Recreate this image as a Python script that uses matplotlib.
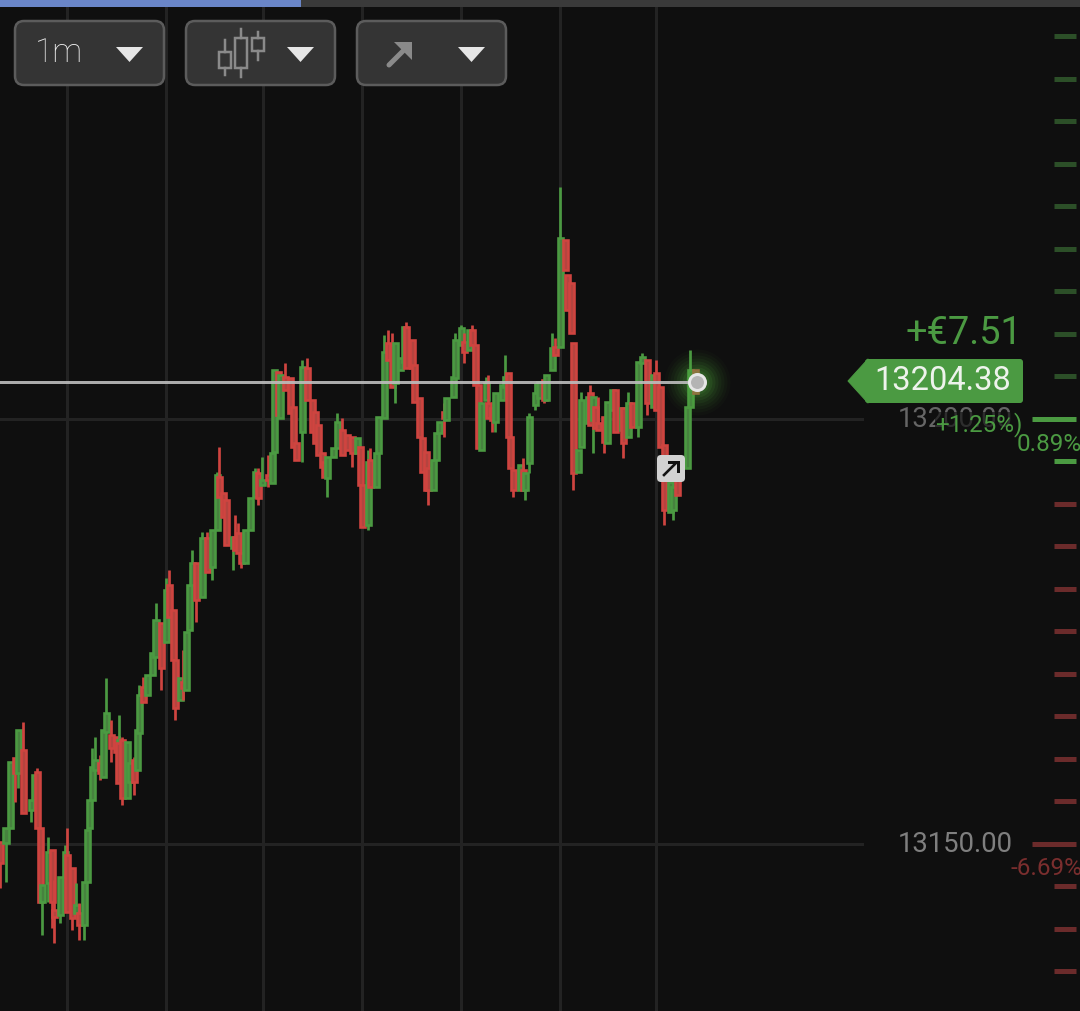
#!/usr/bin/env python3
import numpy as np
import matplotlib
matplotlib.use('Agg')
import matplotlib.pyplot as plt
from matplotlib.patches import FancyBboxPatch, Polygon, Rectangle

plt.rcParams['font.family'] = ['Roboto', 'DejaVu Sans']

BASE_PRICE = 13200.0
LAST_PRICE = 13204.38

# candle times (chart units, grid lines about every 10) and prices relative to BASE_PRICE
times = [0.0,0.6,1.0,1.5,1.8,2.3,3.1,3.4,3.7,4.0,4.2,4.8,5.2,5.4,6.0,6.5,6.7,7.2,7.6,7.9,
    8.4,8.7,8.9,9.2,9.5,10.0,10.3,10.6,11.1,11.6,11.9,11.8,12.2,12.7,13.0,13.4,13.7,13.9,14.3,14.7,
    15.2,15.6,16.1,16.6,16.9,17.3,17.5,18.0,18.3,18.6,18.9,19.2,19.6,20.2,20.7,21.2,21.7,21.9,22.3,22.6,
    23.3,23.5,23.8,24.1,24.5,25.0,25.5,25.8,26.2,26.8,27.2,27.4,27.8,28.0,28.5,29.0,29.3,29.6,30.2,30.7,
    31.2,31.5,31.8,32.2,32.4,32.7,33.3,33.7,34.2,34.7,35.2,35.7,36.0,36.2,36.8,37.0,37.6,37.8,38.4,38.8,
    39.2,39.5,40.0,40.4,40.6,41.2,41.4,41.9,42.2,42.6,42.8,43.3,43.6,43.9,44.4,44.6,45.3,45.5,46.1,46.4,
    46.9,47.2,47.5,47.8,48.1,48.6,48.8,49.2,49.5,50.2,50.5,50.8,51.0,51.3,52.0,52.3,52.5,52.9,53.5,53.9,
    54.4,54.6,55.2,55.5,56.0,56.5,56.7,57.1,57.3,57.8,58.1,58.8,59.0,59.3,59.5,59.8,60.4,60.7,61.2,61.5,
    62.2,62.3,62.8,63.2,63.8,64.2,64.7,65.3,65.6,66.0,66.4,67.0,67.3,67.7,68.7,69.0,69.5]
opens = [-49.8,-49.9,-48.1,-39.9,-41.6,-38.9,-46.0,-44.8,-41.5,-48.1,-56.8,-54.6,-50.7,-57.8,-58.4,-53.9,-51.3,-52.8,-58.1,-58.1,
    -59.5,-54.5,-48.1,-44.8,-41.3,-40.5,-42.1,-36.8,-37.2,-37.4,-40.1,-38.1,-37.8,-44.6,-42.7,-40.1,-41.3,-36.9,-31.5,-32.5,
    -30.1,-28.0,-24.0,-26.2,-19.5,-22.5,-28.4,-33.1,-30.9,-31.9,-24.8,-19.5,-16.9,-20.9,-14.0,-17.4,-13.1,-6.8,-8.7,-9.5,
    -15.2,-13.9,-13.4,-15.8,-16.9,-13.1,-9.2,-6.4,-7.8,-6.6,-7.5,-3.9,5.5,0.1,4.9,4.8,1.4,-2.8,-1.5,6.0,
    2.2,0.8,-0.7,-4.0,-5.1,-6.9,-4.5,-3.4,-1.3,-1.9,-2.1,-4.0,-3.3,-7.8,-12.5,-4.8,-8.0,-4.0,0.1,8.9,
    8.7,4.2,5.8,6.7,10.8,9.3,6.4,2.5,-2.2,-3.9,-5.8,-8.4,-4.8,-1.6,0.8,-0.1,2.6,4.8,8.7,9.1,
    8.1,10.5,8.7,4.0,-3.6,2.2,1.9,1.3,-0.4,2.2,3.8,5.4,-2.1,-6.0,-8.4,-6.0,-8.4,-5.2,1.6,2.5,
    4.6,2.2,5.8,8.5,8.5,21.1,16.9,16.0,8.9,-6.2,-3.3,-0.5,3.1,-0.1,1.4,-0.5,0.2,-2.8,1.1,3.4,
    -1.3,1.3,-2.1,1.9,-0.9,6.6,6.9,1.4,5.4,3.8,-3.1,-10.9,-10.7,-4.8,-5.8,1.4,5.8]
closes = [-52.2,-48.1,-40.4,-41.6,-36.6,-46.4,-44.8,-41.9,-48.1,-56.8,-54.8,-50.9,-56.8,-58.6,-53.9,-50.9,-58.0,-58.7,-57.2,-59.5,
    -54.5,-48.4,-44.8,-40.9,-40.1,-41.6,-36.6,-34.6,-38.7,-39.2,-37.8,-42.8,-44.6,-38.0,-40.5,-42.7,-36.6,-32.5,-33.3,-30.1,
    -27.5,-23.6,-29.3,-20.1,-23.3,-28.4,-34.0,-30.5,-31.6,-25.1,-19.5,-16.9,-21.3,-14.0,-18.0,-13.1,-6.6,-9.2,-11.5,-14.8,
    -13.9,-15.4,-15.8,-16.9,-13.1,-9.3,-6.2,-9.3,-7.2,-7.2,-4.0,5.8,0.5,5.2,3.4,0.7,-3.3,-4.8,6.1,2.2,
    -1.5,-2.8,-4.2,-5.6,-6.8,-4.5,-3.4,-0.4,-4.2,-3.6,-4.0,-2.2,-7.8,-12.7,-5.1,-8.0,-4.0,0.2,7.9,6.9,
    3.8,8.9,7.2,10.8,6.0,6.0,2.0,-2.1,-6.2,-8.4,-8.4,-4.8,-1.6,-0.4,0.1,2.5,4.9,9.3,10.7,7.9,
    10.5,8.7,4.0,-3.4,1.9,4.2,0.1,-0.1,3.1,4.0,4.9,-2.1,-5.8,-8.4,-5.4,-8.4,-6.4,0.2,3.1,4.4,
    2.2,5.2,8.4,7.5,21.3,17.5,12.8,10.1,-6.4,-3.6,2.2,2.6,-0.7,2.6,-1.1,-1.3,-2.7,2.0,3.4,-1.5,
    1.3,-2.8,1.9,-0.9,6.7,7.3,1.9,5.2,1.1,-3.3,-10.7,-7.4,-8.0,-8.9,1.4,5.8,3.1]
highs = [-49.8,-48.1,-40.4,-39.9,-36.6,-35.6,-44.8,-41.9,-41.1,-48.1,-54.8,-49.2,-50.7,-54.2,-53.9,-50.1,-48.1,-52.8,-54.6,-56.9,
    -54.5,-48.4,-44.8,-38.7,-37.4,-39.5,-36.6,-30.5,-35.4,-37.4,-34.8,-38.1,-37.4,-38.0,-40.5,-39.8,-36.6,-31.3,-30.4,-30.1,
    -27.5,-21.6,-24.0,-18.7,-17.8,-22.5,-28.4,-30.5,-27.2,-25.1,-19.5,-15.4,-16.9,-13.3,-13.3,-13.1,-6.2,-3.3,-8.7,-9.5,
    -13.9,-11.3,-12.2,-15.8,-13.1,-9.3,-5.8,-5.8,-4.5,-4.2,-4.0,5.8,5.5,5.2,6.6,4.8,1.4,-2.8,6.9,7.2,
    2.2,0.8,-0.7,-4.0,-5.1,-4.5,-3.4,0.7,0.1,-1.9,-2.1,-2.2,-3.3,-7.8,-3.6,-3.4,-4.0,0.2,9.9,10.5,
    10.1,8.9,7.2,10.8,11.4,9.3,6.4,2.5,-2.2,-3.9,-5.8,-4.8,-1.6,-0.4,1.9,2.5,4.9,10.1,11.1,10.1,
    10.5,11.1,8.7,4.0,1.9,4.9,5.2,1.3,3.1,4.0,7.5,5.4,-2.1,-6.0,-5.4,-4.6,-6.4,0.7,4.2,4.4,
    4.6,5.2,10.1,9.5,27.3,21.1,16.9,16.0,8.9,-3.6,3.2,2.6,4.0,2.6,1.4,2.6,0.2,2.0,3.4,3.4,
    1.3,1.3,3.2,1.9,6.7,7.8,6.9,5.2,6.9,3.8,-3.1,-7.4,-8.0,-4.8,1.4,8.1,5.8]
lows = [-55.2,-54.5,-48.1,-45.1,-43.4,-46.4,-47.4,-44.8,-48.1,-56.8,-60.7,-56.8,-59.9,-61.6,-59.3,-53.9,-58.0,-60.1,-58.1,-61.3,
    -61.3,-54.5,-48.1,-44.8,-41.3,-42.5,-42.1,-36.8,-40.4,-39.2,-40.1,-42.8,-45.4,-44.6,-42.7,-44.2,-41.3,-36.9,-33.3,-32.5,
    -30.1,-28.0,-31.9,-26.2,-23.3,-28.4,-35.4,-33.1,-33.1,-31.9,-24.8,-19.5,-23.9,-20.9,-18.0,-18.9,-13.1,-9.2,-11.5,-14.8,
    -17.8,-15.4,-15.8,-17.5,-16.9,-13.1,-9.2,-10.1,-7.8,-8.0,-7.5,-3.9,0.5,0.1,3.4,0.7,-3.3,-4.8,-5.1,2.2,
    -1.5,-2.8,-4.2,-5.6,-6.8,-9.2,-4.5,-3.4,-4.2,-3.6,-5.6,-4.0,-7.8,-12.7,-13.1,-8.0,-8.0,-4.0,0.1,6.9,
    3.8,1.9,5.8,6.7,6.0,6.0,2.0,-2.1,-6.2,-8.4,-10.1,-8.4,-4.8,-1.6,-2.1,-0.1,2.6,4.8,8.7,6.6,
    8.1,8.7,4.0,-3.4,-3.6,2.2,0.1,-1.5,-1.5,2.2,3.8,-2.1,-5.8,-9.2,-8.4,-8.4,-9.5,-6.4,1.1,2.5,
    1.9,2.2,5.8,7.5,8.5,17.5,12.8,10.1,-8.4,-6.2,-3.3,-0.5,-0.7,-4.0,-1.1,-1.3,-4.0,-2.8,1.1,-1.5,
    -1.3,-4.6,-2.1,-0.9,-2.1,6.6,0.5,1.4,1.1,-3.3,-12.5,-10.9,-11.9,-8.9,-5.8,1.4,3.1]

grid_times = [6.7, 16.6, 26.3, 36.2, 46.1, 56.0, 65.6]
grid_prices = [13200, 13150]
scale_up = [13245, 13240, 13235, 13230, 13225, 13220, 13215, 13210, 13205]
scale_now = [13195]
scale_down = [13190, 13185, 13180, 13175, 13170, 13165, 13160, 13155, 13145, 13140, 13135]

BG = '#0f0f0f'
GRID = '#232323'
GREEN = '#4b9a42'
GREEN_FILL = '#47823f'
RED = '#cf4440'
RED_FILL = '#b5443f'
DARK_GREEN = '#2c4f28'
DARK_RED = '#6b2b2b'
PX = 0.72  # one picture pixel in points at dpi 100

fig = plt.figure(figsize=(10.8, 10.11), dpi=100, facecolor=BG)
ax = fig.add_axes([0, 0, 1, 1], facecolor=BG)
ax.set_xlim(0, 108)
ax.set_ylim(BASE_PRICE - 592 / 8.5, BASE_PRICE + 419 / 8.5)
ax.axis('off')

for t in grid_times:
    ax.axvline(t, color=GRID, lw=3 * PX, zorder=1)
for p in grid_prices:
    ax.plot([0, 86.2], [p, p], color=GRID, lw=3 * PX, zorder=1)

# candles, later ones drawn over earlier ones
for i in range(len(times)):
    up = closes[i] >= opens[i]
    edge = GREEN if up else RED
    fill = GREEN_FILL if up else RED_FILL
    z = 2 + i * 0.01
    ax.vlines(times[i], BASE_PRICE + lows[i], BASE_PRICE + highs[i], color=edge, lw=2.7 * PX, zorder=z)
    ax.bar(times[i], abs(closes[i] - opens[i]), bottom=BASE_PRICE + min(opens[i], closes[i]),
           width=0.5, facecolor=fill, edgecolor=edge, linewidth=2.6 * PX, zorder=z)

for d, a in zip([66, 60, 54, 48, 42, 36, 30, 24], [0.03, 0.04, 0.05, 0.06, 0.08, 0.10, 0.12, 0.14]):
    ax.scatter([69.7], [LAST_PRICE], s=(d * PX) ** 2, color='#4fae3f', alpha=a, linewidths=0, zorder=5.5)
ax.plot([0, 69.7], [LAST_PRICE, LAST_PRICE], color='#bdbdbd', lw=3 * PX, alpha=0.9, zorder=5.6)
ax.scatter([69.7], [LAST_PRICE], s=(16 * PX) ** 2, facecolor='#b4b4b4', edgecolor='#e6e6e6',
           linewidths=3 * PX, zorder=6)

# scale dashes on the right
ax.hlines(scale_up, 105.4, 107.6, color=DARK_GREEN, lw=5 * PX, zorder=3)
ax.hlines(scale_now, 105.4, 107.6, color=GREEN, lw=5 * PX, zorder=3)
ax.hlines([13200], 103.2, 107.6, color=GREEN, lw=5 * PX, zorder=3)
ax.hlines(scale_down, 105.4, 107.6, color=DARK_RED, lw=5 * PX, zorder=3)
ax.hlines([13150], 103.2, 107.6, color=DARK_RED, lw=5 * PX, zorder=3)

# price labels
ax.text(101.3, 13149.9, '13150.00', color='#7f7f7f', fontsize=19.8, ha='right', va='center', zorder=7)
ax.text(101.3, 13199.9, '13200.00', color='#666666', fontsize=19.8, ha='right', va='center', zorder=7)
ax.text(102.2, 13199.4, '+1.25%)', color=GREEN, fontsize=17.5, ha='right', va='center', zorder=8,
        bbox=dict(facecolor=BG, alpha=0.65, edgecolor='none', pad=0))
ax.text(108.2, 13197.0, '0.89%', color=GREEN, fontsize=17.5, ha='right', va='center', zorder=8, clip_on=True)
ax.text(108.2, 13147.1, '-6.69%', color='#7a2e2e', fontsize=17.5, ha='right', va='center', zorder=8, clip_on=True)
ax.text(102.2, 13210.1, '+€7.51', color=GREEN, fontsize=27.3, ha='right', va='center', zorder=8)

# overlay in picture pixels for the app controls
ui = fig.add_axes([0, 0, 1, 1], facecolor='none')
ui.set_xlim(0, 1080)
ui.set_ylim(1011, 0)
ui.axis('off')

ui.add_patch(Rectangle((0, 0), 1080, 7, facecolor='#3a3a3a', edgecolor='none'))
ui.add_patch(Rectangle((0, 0), 301, 7, facecolor='#6a86c8', edgecolor='none'))

for x0 in [15, 186, 357]:
    ui.add_patch(FancyBboxPatch((x0 + 8, 29), 133, 48, boxstyle='round,pad=8,rounding_size=9',
                                facecolor='#343434', edgecolor='#5c5c5c', lw=2.5 * PX))
    ui.add_patch(Polygon([(x0 + 101, 47), (x0 + 128, 47), (x0 + 114.5, 62)], facecolor='#e6e6e6', edgecolor='none'))
ui.text(59, 53, '1m', color='#f0f0f0', fontsize=24, fontweight='light', ha='center', va='center')

icon = '#8a8a8a'
for xc, top, bot, wt, wb in [(225, 52, 68, 40, 75), (241, 38, 68, 29, 77), (258, 38, 51, 32, 60)]:
    ui.plot([xc, xc], [wt, top], color=icon, lw=2.5 * PX)
    ui.plot([xc, xc], [bot, wb], color=icon, lw=2.5 * PX)
    ui.add_patch(Rectangle((xc - 6, top), 12, bot - top, facecolor='none', edgecolor=icon, lw=2.5 * PX))

ui.plot([389, 405], [65, 49], color=icon, lw=5 * PX, solid_capstyle='round')
ui.add_patch(Polygon([(394, 42), (412, 42), (412, 60)], facecolor=icon, edgecolor='none'))

# last price badge
ui.add_patch(FancyBboxPatch((868, 362), 152, 38, boxstyle='round,pad=3,rounding_size=3',
                            facecolor=GREEN, edgecolor='none', zorder=9))
ui.add_patch(Polygon([(848, 381), (868, 359), (868, 403)], facecolor=GREEN, edgecolor=GREEN,
                     lw=PX, joinstyle='round', zorder=9))
ui.text(943, 381, '13204.38', color='#eef3ec', fontsize=23.5, ha='center', va='center', zorder=10)

# small arrow button on the chart
ui.add_patch(FancyBboxPatch((661, 459), 20, 19, boxstyle='round,pad=4,rounding_size=4',
                            facecolor='#d2d2d2', edgecolor='none', zorder=9))
ui.plot([664, 675], [475, 464], color='#111111', lw=2.6 * PX, zorder=10)
ui.add_patch(Polygon([(668, 461), (680, 461), (680, 473), (677, 473), (677, 464), (668, 464)],
                     facecolor='#111111', edgecolor='none', zorder=10))

fig.savefig('out.png', dpi=100, facecolor=BG)
